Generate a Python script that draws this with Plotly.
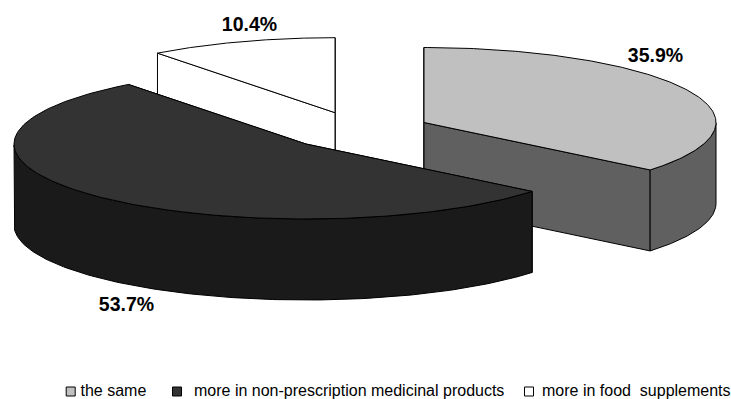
import numpy as np
import plotly.graph_objects as go

# Survey shares, clockwise from twelve o'clock
categories = ["the same", "more in non-prescription medicinal products", "more in food  supplements"]
shares = [35.9, 53.7, 10.4]
top_colors = ["#c0c0c0", "#333333", "#ffffff"]
cut_colors = ["#606060", "#1a1a1a", "#ffffff"]
rim_colors = ["#606060", "#1a1a1a", "#ffffff"]

# Projection of the tilted disc, in page pixels
RX, RY, DEPTH = 292, 75, 81
centers = [(424, 122.5), (306, 144), (335, 112.7)]
label_positions = [(655.5, 57), (126.5, 306.5), (249.5, 26)]
draw_order = [2, 0, 1]
legend_marker_x = [70.7, 177, 529]
legend_text_x = [80.5, 194, 542]
legend_y = 391.5

W, H = 731, 399


def rim_point(cx, cy, angle):
    return cx + RX * np.sin(angle), cy - RY * np.cos(angle)


def add_poly(fig, xs, ys, fill, line="#000000", width=1):
    fig.add_trace(go.Scatter(
        x=list(xs) + [xs[0]], y=list(ys) + [ys[0]], mode="lines", fill="toself",
        fillcolor=fill, line=dict(color=line, width=width), hoverinfo="skip",
    ))


fig = go.Figure()

bounds = np.radians(np.concatenate([[0], np.cumsum(shares)]) * 3.6)

for i in draw_order:
    cx, cy = centers[i]
    a0, a1 = bounds[i], bounds[i + 1]
    arc = np.linspace(a0, a1, 200)
    ax, ay = rim_point(cx, cy, arc)

    # Radial cut faces, back one first
    for a in sorted([a0, a1], key=lambda v: -np.cos(v)):
        ex, ey = rim_point(cx, cy, a)
        add_poly(fig, [cx, ex, ex, cx], [cy, ey, ey + DEPTH, cy + DEPTH], cut_colors[i])

    # Outer wall: only the front half of the rim faces the viewer
    front = arc[np.cos(arc) <= 0]
    if front.size:
        fx, fy = rim_point(cx, cy, front)
        add_poly(fig, np.r_[fx, fx[::-1]], np.r_[fy, fy[::-1] + DEPTH], rim_colors[i])

    # Top face
    add_poly(fig, np.r_[cx, ax], np.r_[cy, ay], top_colors[i])

# Percentage labels
fig.add_trace(go.Scatter(
    x=[p[0] for p in label_positions], y=[p[1] for p in label_positions],
    mode="text", text=[f"{v:.1f}%" for v in shares], textposition="middle center",
    textfont=dict(family="Liberation Sans", size=19.5, color="#000000"),
    texttemplate="<b>%{text}</b>", hoverinfo="skip",
))

# Key along the bottom edge
fig.add_trace(go.Scatter(
    x=legend_marker_x, y=[legend_y] * 3, mode="markers",
    marker=dict(symbol="square", size=9, color=top_colors, line=dict(color="#000000", width=1)),
    hoverinfo="skip",
))
fig.add_trace(go.Scatter(
    x=legend_text_x, y=[legend_y + 0.5] * 3, mode="text",
    text=categories, textposition="middle right",
    textfont=dict(family="Liberation Sans", size=16, color="#000000"),
    hoverinfo="skip",
))

hidden = dict(visible=False, fixedrange=True)
fig.update_layout(
    width=W, height=H, margin=dict(l=0, r=0, t=0, b=0), showlegend=False,
    plot_bgcolor="#ffffff", paper_bgcolor="#ffffff",
    xaxis=dict(range=[0, W], **hidden),
    yaxis=dict(range=[H, 0], **hidden),
)
fig.write_html("out.html", config={"displayModeBar": False})
